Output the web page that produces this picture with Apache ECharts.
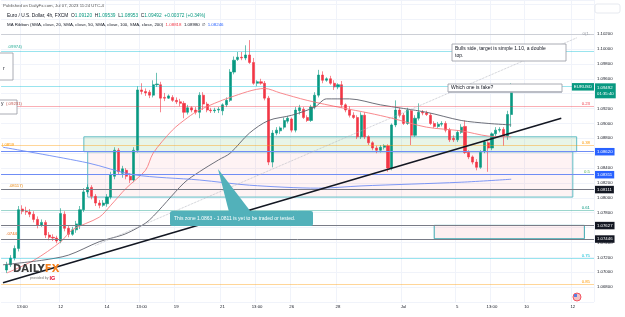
<!DOCTYPE html>
<html>
<head>
<meta charset="utf-8">
<script src="https://cdn.jsdelivr.net/npm/echarts@6/dist/echarts.min.js"></script>
<style>
  html, body { margin: 0; padding: 0; background: #fff; }
  #chart { width: 625px; height: 317px; }
</style>
</head>
<body>
<div id="chart"></div>
<script>
// x axis: one slot per 4h bar, first slot left empty, future slots on the right
const slotCount = 154;
const firstBar = 1;
const tickIdx = [5, 15, 27, 36, 45, 57, 66, 75, 87, 104, 118, 127, 136, 148];
const tickText = ['13:00', '12', '14', '13:00', '19', '21', '13:00', '26', '28', 'Jul', '5', '13:00', '10', '12'];

// EUR/USD 4h candles
const opens = [1.0703,1.0710,1.0719,1.0732,1.0785,1.0782,1.0781,1.0778,1.0771,1.0763,
  1.0767,1.0750,1.0747,1.0746,1.0742,1.0778,1.0759,1.0751,1.0757,1.0763,
  1.0784,1.0808,1.0814,1.0802,1.0793,1.0790,1.0792,1.0801,1.0829,1.0864,
  1.0833,1.0837,1.0829,1.0824,1.0864,1.0945,1.0943,1.0942,1.0938,1.0952,
  1.0952,1.0935,1.0934,1.0935,1.0931,1.0929,1.0927,1.0915,1.0921,1.0918,
  1.0915,1.0938,1.0926,1.0918,1.0917,1.0918,1.0917,1.0925,1.0931,1.0969,
  1.0986,1.0989,1.0988,1.0992,1.0982,1.0954,1.0956,1.0954,1.0934,1.0848,
  1.0887,1.0890,1.0895,1.0903,1.0906,1.0891,1.0917,1.0919,1.0908,1.0904,
  1.0922,1.0938,1.0965,1.0958,1.0960,1.0954,1.0949,1.0952,1.0925,1.0918,
  1.0911,1.0908,1.0882,1.0911,1.0882,1.0874,1.0867,1.0864,1.0868,1.0870,
  1.0840,1.0898,1.0918,1.0911,1.0900,1.0917,1.0884,1.0907,1.0915,1.0914,
  1.0911,1.0900,1.0896,1.0899,1.0900,1.0891,1.0880,1.0878,1.0888,1.0896,
  1.0861,1.0855,1.0848,1.0841,1.0863,1.0874,1.0867,1.0886,1.0891,1.0892,
  1.0883,1.09120];
const closes = [1.0710,1.0719,1.0732,1.0784,1.0782,1.0781,1.0778,1.0771,1.0763,1.0767,
  1.0750,1.0747,1.0746,1.0742,1.0779,1.0759,1.0751,1.0757,1.0765,1.0784,
  1.0808,1.0814,1.0802,1.0793,1.0790,1.0793,1.0801,1.0831,1.0864,1.0835,
  1.0839,1.0829,1.0824,1.0864,1.0945,1.0943,1.0941,1.0938,1.0952,1.0953,
  1.0934,1.0934,1.0937,1.0931,1.0929,1.0927,1.0915,1.0921,1.0918,1.0915,
  1.0938,1.0926,1.0918,1.0917,1.0918,1.0919,1.0925,1.0931,1.0969,1.0985,
  1.0989,1.0988,1.0992,1.0982,1.0954,1.0956,1.0954,1.0934,1.0848,1.0887,
  1.0891,1.0894,1.0904,1.0907,1.0891,1.0918,1.0921,1.0908,1.0904,1.0922,
  1.0938,1.0965,1.0958,1.0960,1.0954,1.0949,1.0952,1.0925,1.0918,1.0911,
  1.0908,1.0882,1.0911,1.0882,1.0874,1.0867,1.0864,1.0868,1.0870,1.0840,
  1.0898,1.0918,1.0911,1.0900,1.0918,1.0884,1.0907,1.0915,1.0914,1.0912,
  1.0900,1.0896,1.0899,1.0900,1.0891,1.0878,1.0878,1.0888,1.0895,1.0861,
  1.0855,1.0848,1.0841,1.0861,1.0875,1.0867,1.0886,1.0891,1.0892,1.0883,
  1.0912,1.09492];
const lows = [1.0699,1.0707,1.0716,1.0728,1.0778,1.0777,1.0774,1.0767,1.0759,1.0761,
  1.0746,1.0743,1.0742,1.0739,1.0739,1.0755,1.0747,1.0749,1.0753,1.0758,
  1.0781,1.0805,1.0798,1.0789,1.0786,1.0788,1.0788,1.0798,1.0825,1.0831,
  1.0827,1.0825,1.0820,1.0821,1.0861,1.0939,1.0937,1.0934,1.0935,1.0949,
  1.0915,1.0930,1.0933,1.0929,1.0926,1.0923,1.0907,1.0912,1.0915,1.0912,
  1.0907,1.0918,1.0915,1.0914,1.0914,1.0914,1.0911,1.0922,1.0929,1.0966,
  1.0984,1.0985,1.0985,1.0980,1.0952,1.0950,1.0952,1.0931,1.0844,1.0841,
  1.0884,1.0886,1.0892,1.0900,1.0888,1.0888,1.0912,1.0906,1.0902,1.0902,
  1.0919,1.0935,1.0954,1.0956,1.0952,1.0945,1.0946,1.0921,1.0915,1.0908,
  1.0906,1.0879,1.0879,1.0879,1.0871,1.0864,1.0860,1.0861,1.0865,1.0835,
  1.0837,1.0895,1.0908,1.0898,1.0898,1.0871,1.0882,1.0904,1.0911,1.0910,
  1.0898,1.0894,1.0894,1.0896,1.0888,1.0875,1.0875,1.0875,1.0886,1.0859,
  1.0852,1.0845,1.0837,1.0839,1.0860,1.0835,1.0864,1.0883,1.0888,1.0870,
  1.0878,1.08953];
const highs = [1.0714,1.0723,1.0736,1.0789,1.0790,1.0788,1.0785,1.0782,1.0775,1.0771,
  1.0770,1.0754,1.0751,1.0749,1.0786,1.0782,1.0763,1.0761,1.0769,1.0789,
  1.0813,1.0818,1.0817,1.0805,1.0797,1.0797,1.0805,1.0835,1.0868,1.0867,
  1.0843,1.0840,1.0833,1.0868,1.0950,1.0954,1.0947,1.0945,1.0958,1.0968,
  1.0956,1.0941,1.0939,1.0938,1.0935,1.0933,1.0930,1.0925,1.0923,1.0922,
  1.0942,1.0942,1.0929,1.0921,1.0921,1.0922,1.0927,1.0935,1.0973,1.0990,
  1.0996,1.0996,1.1005,1.1012,1.0988,1.0958,1.0960,1.0957,1.0937,1.0891,
  1.0895,1.0896,1.0908,1.0910,1.0908,1.0922,1.0925,1.0922,1.0911,1.0925,
  1.0942,1.0972,1.0970,1.0962,1.0964,1.0958,1.0954,1.0957,1.0927,1.0923,
  1.0915,1.0911,1.0915,1.0915,1.0884,1.0876,1.0870,1.0871,1.0872,1.0872,
  1.0900,1.0931,1.0921,1.0914,1.0921,1.0919,1.0911,1.0927,1.0918,1.0917,
  1.0914,1.0903,1.0902,1.0903,1.0903,1.0894,1.0884,1.0891,1.0899,1.0904,
  1.0864,1.0857,1.0852,1.0864,1.0878,1.0876,1.0888,1.0895,1.0895,1.0895,
  1.0917,1.09539];

// moving averages, read as [slot, value]
const sma20 = [[1,1.0699],[8,1.0716],[15,1.0741],[18,1.0757],[25,1.0774],[28,1.0790],[32,1.0813],
  [37,1.0837],[39,1.0860],[44,1.0891],[48,1.0908],[51,1.0918],[59,1.0935],[68,1.0947],[72,1.0941],
  [79,1.0931],[88,1.0921],[95,1.0914],[101,1.0907],[110,1.0895],[119,1.0890],[126,1.0883],[132,1.0882]];
const sma50 = [[0,1.0710],[10,1.0716],[17,1.0723],[25,1.0741],[31,1.0750],[34,1.0757],[38,1.0770],
  [47,1.0820],[51,1.0835],[56,1.0851],[59,1.0860],[64,1.0887],[69,1.0904],[75,1.0911],[81,1.0922],
  [84,1.0933],[90,1.0933],[98,1.0925],[110,1.0915],[119,1.0904],[126,1.0900],[132,1.0898]];
const sma200 = [[0,1.0868],[22,1.0847],[34,1.0831],[51,1.0824],[64,1.0817],[82,1.0813],[93,1.0816],
  [119,1.0821],[132,1.0825]];

// horizontal levels with price tags on the axis
const tagPrices = [1.08620, 1.08311, 1.08111, 1.07627, 1.07446];
const tagColors = ['#2962ff', '#2962ff', '#131722', '#131722', '#131722'];
const tagLineColors = ['#6f8df5', '#6f8df5', '#787b86', '#787b86', '#787b86'];

// fib style levels
const fibPrices = [1.1020, 1.0997, 1.0950, 1.0923, 1.0871, 1.0832, 1.0783, 1.0719, 1.0684];
const fibNames = ['0(1.', '', '', '0.23', '0.38', '0.5', '0.61', '0.75', '0.85'];
const fibColors = ['#9598a1', '#00bcd4', '#00bcd4', '#f23645', '#ff9800', '#4caf50', '#089981', '#00bcd4', '#ff9800'];

// drawings: [slot, price]
const trendFrom = [0, 1.0686], trendTo = [145, 1.0907];
const dotFrom = [24, 1.0736], dotTo = [149, 1.1015];
const zoneGreen = [[21, 1.0882], [149, 1.0862]];
const zonePink = [[22, 1.0862], [148, 1.0801]];
const zoneLow = [[112, 1.0763], [151, 1.0745]];

const lastPrice = 1.09492;

const slots = [];
for (let s = 0; s < slotCount; s++) slots.push('');
tickIdx.forEach((s, k) => { slots[s] = tickText[k]; });

const candleData = opens.map((o, i) => [i + firstBar, o, closes[i], lows[i], highs[i]]);

const font = 'Liberation Sans, Arial, sans-serif';
const hidden = {color: 'rgba(0,0,0,0)', width: 0};

const markLines = [];
fibPrices.forEach((p, k) => {
    markLines.push({
        yAxis: p,
        lineStyle: {color: fibColors[k], opacity: 0.4, width: 1, type: 'solid'},
        label: {show: fibNames[k] !== '', position: k === 0 ? 'insideEnd' : 'insideEndTop', distance: [4, 0.5],
            formatter: fibNames[k], color: fibColors[k], fontSize: 4.3, opacity: 1}
    });
});
tagPrices.forEach((p, k) => {
    markLines.push({
        yAxis: p,
        lineStyle: {color: tagLineColors[k], width: 1, type: 'solid'},
        label: {show: true, position: 'end', distance: 1, formatter: p.toFixed(5),
            backgroundColor: tagColors[k], color: '#fff', padding: [2, 2, 1.5, 2], fontSize: 4.3}
    });
});
markLines.push({
    yAxis: lastPrice,
    lineStyle: hidden,
    label: {show: true, position: 'end', distance: 1, formatter: lastPrice.toFixed(5) + '\n01:35:40',
        backgroundColor: '#089981', color: '#fff', padding: [2, 2], fontSize: 4.3, lineHeight: 5.5, offset: [0, 4]}
});
markLines.push({
    yAxis: lastPrice,
    lineStyle: hidden,
    label: {show: true, position: 'insideEnd', distance: 0, formatter: 'EURUSD',
        backgroundColor: '#089981', color: '#fff', padding: [2, 2, 1.5, 2], fontSize: 4.3}
});
markLines.push([
    {coord: trendFrom, lineStyle: {color: '#131722', width: 1.6, type: 'solid'}},
    {coord: trendTo}
]);
markLines.push([
    {coord: dotFrom, lineStyle: {color: '#b2b5be', width: 0.8, type: 'dotted'}},
    {coord: dotTo}
]);

const zoneBorder = '#5fbcc4';

const option = {
    animation: false,
    backgroundColor: '#fff',
    textStyle: {fontFamily: font},
    grid: {left: 0, right: 31, top: 0, bottom: 15},
    xAxis: {
        type: 'category',
        data: slots,
        boundaryGap: true,
        axisLine: {show: false},
        axisTick: {show: false},
        axisLabel: {interval: 0, fontSize: 4.3, color: '#131722', margin: 3},
        splitLine: {show: true, interval: (i, v) => v !== '', lineStyle: {color: '#f0f3fa'}}
    },
    yAxis: {
        type: 'value',
        position: 'right',
        min: 1.066,
        max: 1.10659,
        interval: 0.002,
        scale: true,
        axisLine: {show: false},
        axisTick: {show: false},
        splitLine: {lineStyle: {color: '#f0f3fa'}},
        axisLabel: {fontSize: 4.3, color: '#131722', margin: 3, showMaxLabel: false, showMinLabel: false,
            formatter: v => v > 1.1025 ? '' : v.toFixed(5)}
    },
    series: [
        {
            type: 'candlestick',
            data: candleData,
            encode: {x: 0, y: [1, 2, 3, 4]},
            barWidth: 2.6,
            itemStyle: {color: '#089981', color0: '#f23645', borderColor: '#089981', borderColor0: '#f23645', borderWidth: 0.6},
            markArea: {
                silent: true,
                data: [
                    [{coord: zoneGreen[0], itemStyle: {color: 'rgba(76,175,80,0.13)', borderColor: zoneBorder, borderWidth: 1}}, {coord: zoneGreen[1]}],
                    [{coord: zonePink[0], itemStyle: {color: 'rgba(242,54,69,0.06)', borderColor: zoneBorder, borderWidth: 1}}, {coord: zonePink[1]}],
                    [{coord: zoneLow[0], itemStyle: {color: 'rgba(242,54,69,0.08)', borderColor: '#3aa7b0', borderWidth: 1}}, {coord: zoneLow[1]}]
                ]
            },
            markLine: {
                silent: true,
                precision: 5,
                symbol: ['none', 'none'],
                label: {show: false},
                data: markLines
            }
        },
        {type: 'line', data: sma20, smooth: 0.3, showSymbol: false, lineStyle: {color: '#f77c80', width: 0.9}, z: 3},
        {type: 'line', data: sma50, smooth: 0.3, showSymbol: false, lineStyle: {color: '#5d606b', width: 0.9}, z: 3},
        {type: 'line', data: sma200, smooth: 0.3, showSymbol: false, lineStyle: {color: '#6f8df5', width: 0.9}, z: 3}
    ],
    graphic: [
        // header
        {type: 'text', x: 3, y: 6, z: 50, style: {text: 'Published on DailyFx.com, Jul 07, 2023 11:24 UTC-4',
            fill: '#555', fontSize: 4.3, fontFamily: font, verticalAlign: 'middle'}},
        {type: 'text', x: 7, y: 16, z: 50, style: {
            text: 'Euro / U.S. Dollar, 4h, FXCM  O{g|1.09120}  H{g|1.09539}  L{g|1.08953}  C{g|1.09492}  {g|+0.00372 (+0.34%)}',
            fill: '#131722', fontSize: 4.8, fontFamily: font, verticalAlign: 'middle',
            rich: {g: {fill: '#089981', fontSize: 4.8, fontFamily: font}}}},
        {type: 'text', x: 7, y: 25, z: 50, style: {
            text: 'MA Ribbon (SMA, close, 20, SMA, close, 50, SMA, close, 100, SMA, close, 200)  {r|1.08818}  1.08980  \u2205  {b|1.08246}',
            fill: '#131722', fontSize: 4.4, fontFamily: font, verticalAlign: 'middle',
            rich: {r: {fill: '#f23645', fontSize: 4.4, fontFamily: font}, b: {fill: '#2962ff', fontSize: 4.4, fontFamily: font}}}},
        {type: 'rect', z: 50, shape: {x: 595, y: 4, width: 25, height: 9, r: 2}, style: {fill: '#fff', stroke: '#e0e3eb', lineWidth: 0.8}},
        // cut off boxes and labels on the left
        {type: 'rect', z: 50, shape: {x: -4, y: 53, width: 17, height: 27}, style: {fill: '#fff', stroke: '#9598a1', lineWidth: 0.8}},
        {type: 'text', x: 3, y: 69, z: 51, style: {text: 'r', fill: '#131722', fontSize: 5, fontFamily: font, verticalAlign: 'middle'}},
        {type: 'rect', z: 50, shape: {x: -4, y: 100, width: 21, height: 14}, style: {fill: '#fff', stroke: '#9598a1', lineWidth: 0.8}},
        {type: 'text', x: 1, y: 104, z: 51, style: {text: 'y', fill: '#131722', fontSize: 5, fontFamily: font, verticalAlign: 'middle'}},
        {type: 'text', x: 22, y: 47, z: 51, style: {text: '.09974)', fill: '#22ab94', fontSize: 4.3, fontFamily: font, align: 'right', verticalAlign: 'middle'}},
        {type: 'text', x: 22, y: 104, z: 51, style: {text: '(.09231)', fill: '#c2554d', fontSize: 4.3, fontFamily: font, align: 'right', verticalAlign: 'middle'}},
        {type: 'text', x: 14, y: 145, z: 51, style: {text: '(.0859', fill: '#ff9800', fontSize: 4.3, fontFamily: font, align: 'right', verticalAlign: 'middle'}},
        {type: 'text', x: 23, y: 186, z: 51, style: {text: '.08117)', fill: '#e8860c', fontSize: 4.3, fontFamily: font, align: 'right', verticalAlign: 'middle'}},
        {type: 'text', x: 17, y: 234, z: 51, style: {text: '.0744', fill: '#e8660c', fontSize: 4.3, fontFamily: font, align: 'right', verticalAlign: 'middle'}},
        // notes
        {type: 'rect', z: 50, shape: {x: 452, y: 44, width: 114, height: 17}, style: {fill: '#fff', stroke: '#9598a1', lineWidth: 0.8}},
        {type: 'text', x: 455, y: 48.5, z: 51, style: {text: 'Bulls side, target is simple 1.10, a double', fill: '#131722', fontSize: 5, fontFamily: font, verticalAlign: 'middle'}},
        {type: 'text', x: 455, y: 55.5, z: 51, style: {text: 'top.', fill: '#131722', fontSize: 5, fontFamily: font, verticalAlign: 'middle'}},
        {type: 'rect', z: 50, shape: {x: 448, y: 84, width: 114, height: 8}, style: {fill: '#fff', stroke: '#9598a1', lineWidth: 0.8}},
        {type: 'line', z: 50, shape: {x1: 448, y1: 92, x2: 562, y2: 92}, style: {stroke: '#b2b5be', lineWidth: 1.6}},
        {type: 'text', x: 451, y: 88, z: 51, style: {text: 'Which one is fake?', fill: '#131722', fontSize: 5, fontFamily: font, verticalAlign: 'middle'}},
        {type: 'polygon', z: 50, shape: {points: [[218, 169], [229, 212], [251, 212]]}, style: {fill: '#52b1ba'}},
        {type: 'rect', z: 50, shape: {x: 170, y: 211, width: 143, height: 15, r: 2}, style: {fill: '#52b1ba'}},
        {type: 'text', x: 174, y: 218.5, z: 51, style: {text: 'This zone 1.0863 - 1.0811 is yet to be traded or tested.', fill: '#fff', fontSize: 5, fontFamily: font, verticalAlign: 'middle'}},
        // logo
        {type: 'text', x: 13, y: 269, z: 51, style: {text: 'DAILY{f|FX}', fill: '#3a3a3a', fontSize: 10, fontWeight: 'bold', fontFamily: 'DejaVu Sans', verticalAlign: 'middle',
            rich: {f: {fill: '#f58220', fontSize: 10, fontWeight: 'bold', fontFamily: 'DejaVu Sans'}}}},
        {type: 'text', x: 30, y: 278, z: 51, style: {text: 'provided by {i|IG}', fill: '#777', fontSize: 3.6, fontFamily: font, verticalAlign: 'middle',
            rich: {i: {fill: '#e4002b', fontSize: 5.5, fontWeight: 'bold', fontFamily: font}}}},
        // flag
        {type: 'circle', z: 50, shape: {cx: 577, cy: 297, r: 4}, style: {fill: '#f3c1c4', stroke: '#f23645', lineWidth: 0.8}},
        {type: 'rect', z: 51, shape: {x: 574, y: 294, width: 3, height: 3}, style: {fill: '#5b7fe0'}}
    ]
};

const chart = echarts.init(document.getElementById('chart'));
chart.setOption(option);
</script>
</body>
</html>
